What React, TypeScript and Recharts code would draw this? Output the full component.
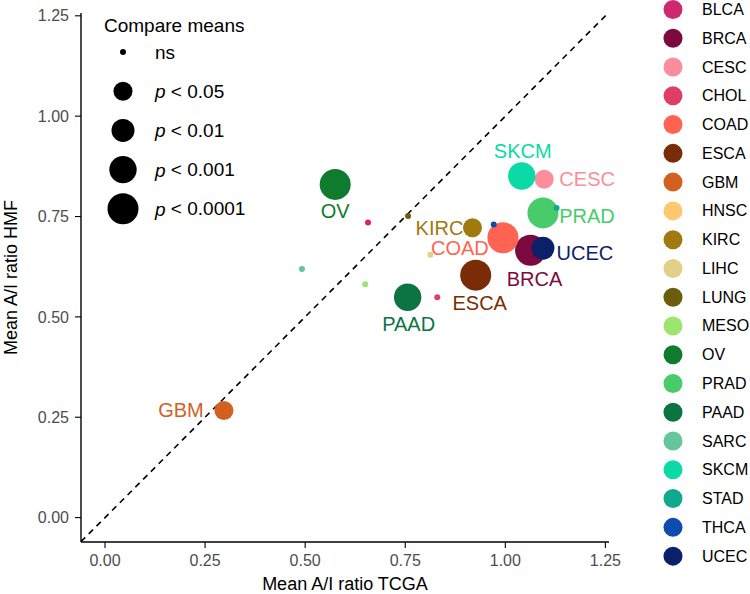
import React from 'react';
import { ScatterChart, Scatter, XAxis, YAxis, ReferenceLine, Label } from 'recharts';

const FONT = '"Liberation Sans", Arial, Helvetica, sans-serif';

// one entry per cancer type, in legend order
const cancers = ['BLCA', 'BRCA', 'CESC', 'CHOL', 'COAD', 'ESCA', 'GBM', 'HNSC', 'KIRC', 'LIHC', 'LUNG', 'MESO', 'OV', 'PRAD', 'PAAD', 'SARC', 'SKCM', 'STAD', 'THCA', 'UCEC'];
const meanTCGA = [0.657, 1.063, 1.097, 0.83, 0.994, 0.926, 0.297, 0.915, 0.918, 0.813, 0.757, 0.65, 0.575, 1.094, 0.756, 0.492, 1.041, 1.128, 0.971, 1.094];
const meanHMF = [0.735, 0.666, 0.843, 0.549, 0.697, 0.604, 0.267, 0.72, 0.722, 0.655, 0.751, 0.581, 0.83, 0.759, 0.549, 0.619, 0.851, 0.771, 0.73, 0.671];
const significance = ['ns', 'p < 0.0001', 'p < 0.05', 'ns', 'p < 0.0001', 'p < 0.0001', 'p < 0.05', 'ns', 'p < 0.05', 'ns', 'ns', 'ns', 'p < 0.0001', 'p < 0.0001', 'p < 0.001', 'ns', 'p < 0.001', 'ns', 'ns', 'p < 0.01'];
const colors = ['#CF2870', '#7D0A3F', '#FD8D9C', '#E03F65', '#FF6351', '#7A2C06', '#D4601F', '#FDC86F', '#A0790F', '#E4CF88', '#6A5E0B', '#9EE470', '#0F7B2E', '#48CC6B', '#0B7442', '#66C59C', '#0ADAA5', '#11A890', '#0C4CAE', '#0C206A'];

const labelled = ['OV', 'SKCM', 'CESC', 'PRAD', 'KIRC', 'COAD', 'UCEC', 'BRCA', 'ESCA', 'PAAD', 'GBM'];

const sigLevels = ['ns', 'p < 0.05', 'p < 0.01', 'p < 0.001', 'p < 0.0001'];
const sigRadius: Record<string, number> = { ns: 3, 'p < 0.05': 9.5, 'p < 0.01': 11.5, 'p < 0.001': 13.7, 'p < 0.0001': 15.5 };

const axisTicks = [0, 0.25, 0.5, 0.75, 1, 1.25];

// pixel nudges for the repelled text labels (dx, dy from point centre)
const labelNudge: Record<string, [number, number]> = {
  OV: [0, 27],
  SKCM: [1, -25],
  CESC: [43, 0],
  PRAD: [44, 3],
  KIRC: [-33, 0],
  COAD: [-43, 10],
  UCEC: [42, 5],
  BRCA: [4, 29],
  ESCA: [4, 28],
  PAAD: [1, 27],
  GBM: [-43, 0],
};

const points = cancers.map((name, i) => ({
  name,
  x: meanTCGA[i],
  y: meanHMF[i],
  sig: significance[i],
  color: colors[i],
}));
const labelPoints = points.filter((p) => labelled.includes(p.name));

const PointShape = (props: any) => {
  const { cx, cy, payload } = props;
  if (cx == null || cy == null) return null;
  return <circle cx={cx} cy={cy} r={sigRadius[payload.sig]} fill={payload.color} />;
};

const LabelShape = (props: any) => {
  const { cx, cy, payload } = props;
  if (cx == null || cy == null) return null;
  const [dx, dy] = labelNudge[payload.name] || [0, 0];
  return (
    <text
      x={cx + dx}
      y={cy + dy}
      textAnchor="middle"
      dominantBaseline="central"
      fill={payload.color}
      fontSize={20}
      fontFamily={FONT}
    >
      {payload.name}
    </text>
  );
};

const SigLabel = ({ level }: { level: string }) => {
  if (level === 'ns') return <>ns</>;
  return (
    <>
      <tspan fontStyle="italic">p</tspan>
      {level.slice(1)}
    </>
  );
};

const Legends = () => (
  <svg width={750} height={594} style={{ position: 'absolute', left: 0, top: 0, pointerEvents: 'none' }}>
    {/* size legend */}
    <text x={104} y={25} dominantBaseline="central" fontSize={19} fontFamily={FONT} fill="#000">
      Compare means
    </text>
    {sigLevels.map((lv, i) => (
      <g key={lv}>
        <circle cx={123} cy={52 + i * 39.2} r={sigRadius[lv]} fill="#000" />
        <text x={155} y={52 + i * 39.2} dominantBaseline="central" fontSize={19} fontFamily={FONT} fill="#000">
          <SigLabel level={lv} />
        </text>
      </g>
    ))}
    {/* colour legend */}
    {cancers.map((c, i) => (
      <g key={c}>
        <circle cx={673} cy={9.5 + i * 28.77} r={9.5} fill={colors[i]} />
        <text x={702} y={9.5 + i * 28.77} dominantBaseline="central" fontSize={16} fontFamily={FONT} fill="#000">
          {c}
        </text>
      </g>
    ))}
  </svg>
);

export default function App() {
  return (
    <div style={{ position: 'absolute', left: 0, top: 0, width: 750, height: 594, background: '#fff', fontFamily: FONT }}>
      <ScatterChart width={750} height={594} margin={{ top: 13, right: 141, bottom: 0, left: 0 }}>
        <XAxis
          type="number"
          dataKey="x"
          domain={[-0.06, 1.259]}
          ticks={axisTicks}
          interval={0}
          tickFormatter={(v: number) => v.toFixed(2)}
          height={52}
          tickSize={6}
          tickMargin={7}
          axisLine={{ stroke: '#000', strokeWidth: 1.4 }}
          tickLine={{ stroke: '#000', strokeWidth: 1.1 }}
          tick={{ fill: '#4D4D4D', fontSize: 16, fontFamily: FONT }}
        >
          <Label value="Mean A/I ratio TCGA" position="insideBottom" offset={4} fill="#000" style={{ fontSize: 18, fill: '#000', fontFamily: FONT }} />
        </XAxis>
        <YAxis
          type="number"
          dataKey="y"
          domain={[-0.0608, 1.257]}
          ticks={axisTicks}
          interval={0}
          tickFormatter={(v: number) => v.toFixed(2)}
          width={81}
          tickSize={6}
          tickMargin={6}
          axisLine={{ stroke: '#000', strokeWidth: 1.4 }}
          tickLine={{ stroke: '#000', strokeWidth: 1.1 }}
          tick={{ fill: '#4D4D4D', fontSize: 16, fontFamily: FONT }}
        >
          <Label
            value="Mean A/I ratio HMF"
            angle={-90}
            position="insideLeft"
            offset={10.5}
            fill="#000"
            style={{ fontSize: 18, fill: '#000', fontFamily: FONT, textAnchor: 'middle' }}
          />
        </YAxis>
        <ReferenceLine
          segment={[{ x: -0.06, y: -0.06 }, { x: 1.256, y: 1.256 }]}
          stroke="#000"
          strokeWidth={1.6}
          strokeDasharray="6 5"
          ifOverflow="visible"
        />
        <Scatter data={points} shape={<PointShape />} isAnimationActive={false} />
        <Scatter data={labelPoints} shape={<LabelShape />} isAnimationActive={false} />
      </ScatterChart>
      <Legends />
    </div>
  );
}
